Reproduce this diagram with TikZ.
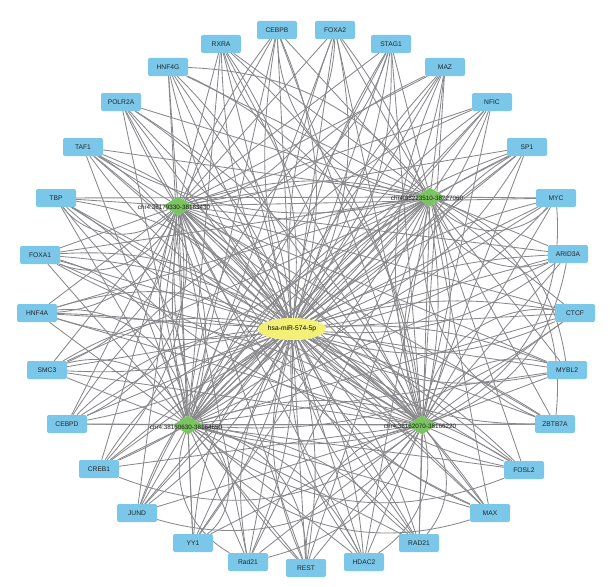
\documentclass[tikz,border=0pt]{standalone}
\usepackage{fontspec}
\setmainfont{Liberation Sans}
\usetikzlibrary{shapes.geometric,backgrounds}
\definecolor{tfblue}{RGB}{122,199,233}
\definecolor{dgreen}{RGB}{122,196,98}
\definecolor{hubyellow}{RGB}{242,240,118}
\definecolor{edgegray}{RGB}{136,136,140}
\begin{document}
\begin{tikzpicture}[x=1pt,y=-1pt,
  tf/.style={fill=tfblue, rounded corners=2pt, minimum width=40pt, minimum height=18pt, inner sep=0pt, font=\fontsize{6.7}{7}\selectfont, text=black!85},
  dia/.style={diamond, fill=dgreen, minimum width=30pt, minimum height=19pt, inner sep=0pt},
  dlab/.style={font=\fontsize{6.3}{7}\selectfont, inner sep=0pt, text=black!90},
  hubst/.style={ellipse, fill=hubyellow, minimum width=56pt, minimum height=22pt, inner sep=0pt, font=\fontsize{6.7}{7}\selectfont},
  edge/.style={draw=edgegray, line width=0.85pt}
]
\useasboundingbox (0,0) rectangle (610,586);
% transcription factors
\foreach \n/\x/\y/\t in {
  cebpb/277/30/CEBPB, foxa2/335/30/FOXA2, rxra/221/44/RXRA, stag1/391/44/STAG1,
  hnf4g/168/67/HNF4G, maz/445/67/MAZ, polr2a/121/102/POLR2A, nfic/492/102/NFIC,
  taf1/83/147/TAF1, sp1/527/147/SP1, tbp/56/198/TBP, myc/556/198/MYC,
  foxa1/40/255/FOXA1, arid3a/568/254/ARID3A, hnf4a/37/313/HNF4A, ctcf/575/313/CTCF,
  smc3/47/370/SMC3, mybl2/567/370/MYBL2, cebpd/67/424/CEBPD, zbtb7a/555/424/ZBTB7A,
  creb1/99/469/CREB1, fosl2/524/470/FOSL2, jund/137/513/JUND, max/490/513/MAX,
  yy1/193/543/YY1, rad21b/419/543/RAD21, rad21a/248/562/Rad21, rest/306/568/REST,
  hdac2/364/562/HDAC2}
  \node[tf] (\n) at (\x,\y) {\t};
% hub and regions
\node[hubst] (hub) at (292,329) {hsa-miR-574-5p};
\node[dia] (d1) at (178,206) {};
\node[dia] (d2) at (430,197) {};
\node[dia] (d3) at (188,425) {};
\node[dia] (d4) at (422,425) {};
\node[dlab] (d1l) at (174,207) {chr4:38179330-38183430};
\node[dlab] (d2l) at (427,198) {chr4:38223510-38227060};
\node[dlab] (d3l) at (186,427) {chr4:38160630-38164650};
\node[dlab] (d4l) at (420,426) {chr4:38162070-38166220};
\begin{pgfonlayer}{background}
\foreach \t in {cebpb,foxa2,rxra,stag1,hnf4g,maz,polr2a,nfic,taf1,sp1,tbp,myc,foxa1,arid3a,hnf4a,ctcf,smc3,mybl2,cebpd,zbtb7a,creb1,fosl2,jund,max,yy1,rad21b,rad21a,rest,hdac2}{
  \draw[edge] (\t) -- (hub);
  \draw[edge] (\t) to[bend left=20] (hub);
  \draw[edge] (\t) to[bend right=12] (hub);
  \foreach \d in {d1,d2,d3,d4}
    \draw[edge] (\t) -- (\d);
}
% curved extra edges
\foreach \t/\d/\b in {tbp/d3/30, foxa1/d3/35, hnf4a/d1/-35, smc3/d1/-30, foxa1/d4/20, hnf4a/d4/15,
  tbp/d4/-20, cebpd/d2/25, creb1/d1/-25, jund/d2/20, yy1/d3/-60, rad21a/d4/-25, rest/d1/25,
  hdac2/d3/-25, rad21b/d3/-20, max/d1/20, fosl2/d3/-25, zbtb7a/d2/-35, mybl2/d2/-30,
  ctcf/d3/20, arid3a/d4/30, myc/d4/35, sp1/d3/-20, nfic/d3/-25, maz/d4/-20, stag1/d3/20,
  foxa2/d4/25, cebpb/d3/-25, rxra/d4/20, hnf4g/d2/25, polr2a/d4/15, taf1/d2/-20,
  tbp/d1/-50, foxa1/d1/-45, hnf4a/d3/45, smc3/d3/40, cebpd/d1/-40, taf1/d3/40,
  myc/d2/50, arid3a/d2/45, ctcf/d4/-45, mybl2/d4/-40, zbtb7a/d2/40, sp1/d4/-40,
  cebpb/d2/-40, foxa2/d1/40, rxra/d2/-35, stag1/d1/35, hnf4g/d4/30, maz/d3/-30,
  jund/d4/-35, max/d3/35, rest/d3/-40, rest/d4/40, hdac2/d4/-35, rad21a/d3/40, rad21b/d4/-40, creb1/d4/-30, fosl2/d3/30}
  \draw[edge] (\t) to[bend left=\b] (\d);
\foreach \a/\b/\c in {d1/hub/6, d1/hub/-6, d2/hub/6, d2/hub/-6, d3/hub/6, d3/hub/-6, d4/hub/6, d4/hub/-6,
  d1/hub/12, d2/hub/-12, d3/hub/12, d4/hub/-12,
  d1/d4/0, d2/d3/0, d1/d2/15, d3/d4/-15, d1/d3/-20, d2/d4/20, d1/d4/12, d2/d3/-12}
  \draw[edge] (\a) to[bend left=\c] (\b);
\end{pgfonlayer}
\end{tikzpicture}
\end{document}
